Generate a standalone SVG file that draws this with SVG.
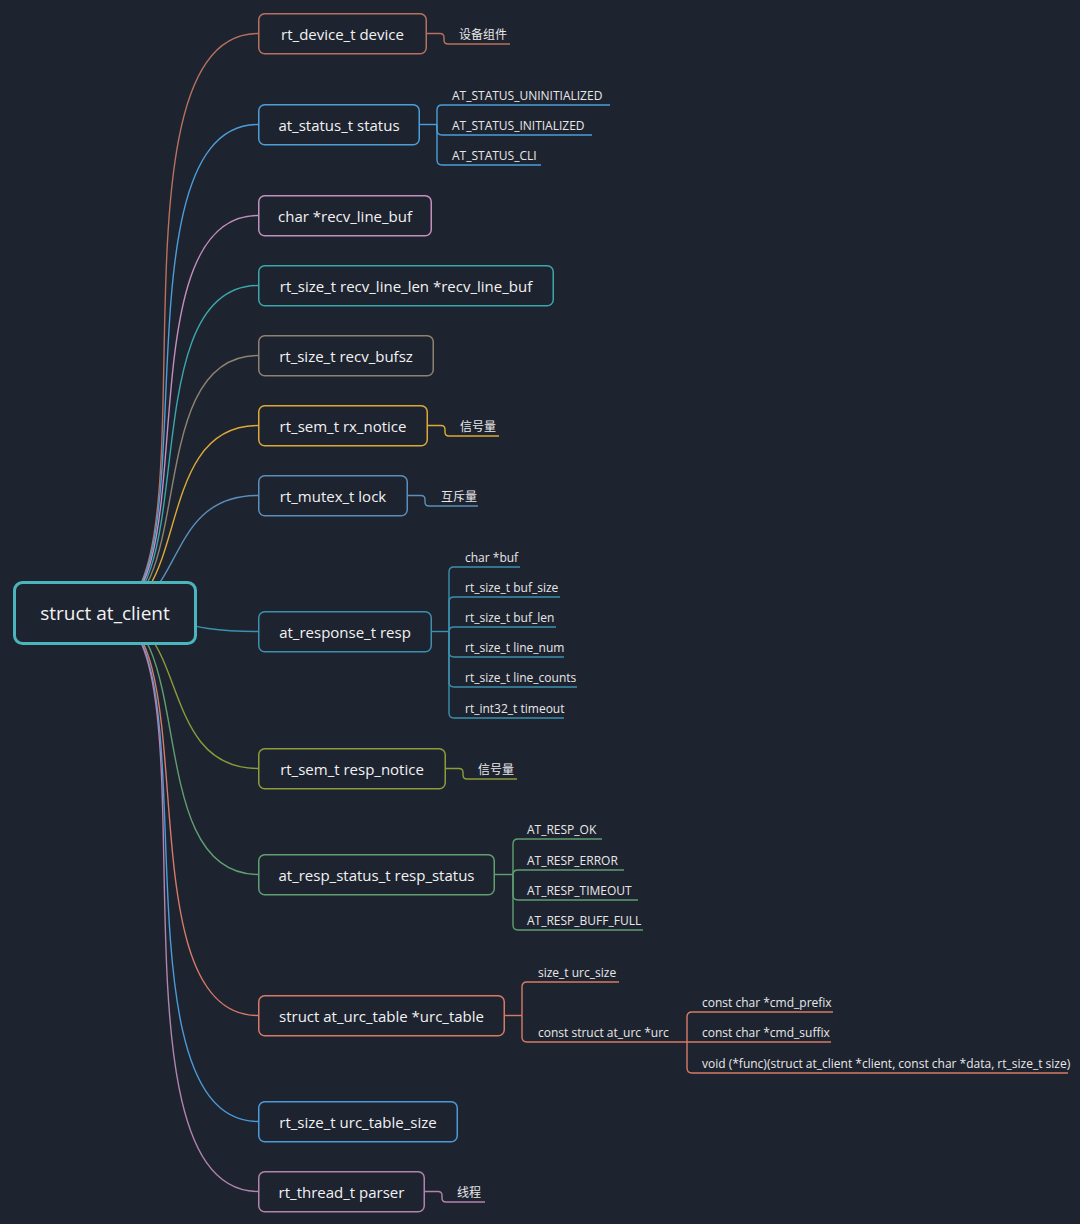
<svg xmlns="http://www.w3.org/2000/svg" width="1080" height="1224" viewBox="0 0 1080 1224">
<style>
.bg{fill:#1e2330}
.box{fill:#1e2330;stroke-width:1.5}
.ln{fill:none;stroke-width:1.4}
.t{font-family:"Open Sans","Noto Sans",sans-serif;font-size:15px;fill:#f2f2f2;text-anchor:middle;dominant-baseline:central}
.s{font-family:"Open Sans","Noto Sans",sans-serif;font-size:12px;fill:#e8e8e8}
.cj{font-family:"Noto Sans CJK SC","Noto Sans",sans-serif;font-size:12px;fill:#e8e8e8}
.c1{stroke:#b8715f}.c2{stroke:#4a9fd9}.c3{stroke:#c48fbf}.c4{stroke:#3aa7a9}.c5{stroke:#8e8270}.c6{stroke:#dcaa35}.c7{stroke:#5a8fba}.c8{stroke:#3b90ae}.c9{stroke:#8d9c38}.c10{stroke:#5f9f70}.c11{stroke:#d67b66}.c12{stroke:#4a9bd8}.c13{stroke:#b283ad}
</style>
<rect class="bg" x="0" y="0" width="1080" height="1224"/>
<g id="connectors">
<path class="ln c1" d="M105,613 C223,613 95,33.5 258,33.5"/>
<path class="ln c2" d="M105,613 C216,613 108,124.5 258,124.5"/>
<path class="ln c3" d="M105,613 C209,613 120,215.5 258,215.5"/>
<path class="ln c4" d="M105,613 C204,613 130,285.5 258,285.5"/>
<path class="ln c5" d="M105,613 C199,613 140,355.5 258,355.5"/>
<path class="ln c6" d="M105,613 C193,613 150,425.5 258,425.5"/>
<path class="ln c7" d="M105,613 C188,613 160,495.5 258,495.5"/>
<path class="ln c8" d="M105,613 C180,613 174,631.5 258,631.5"/>
<path class="ln c9" d="M105,613 C191,613 155,768.5 258,768.5"/>
<path class="ln c10" d="M105,613 C199,613 140,874.5 258,874.5"/>
<path class="ln c11" d="M105,613 C210,613 120,1015.5 258,1015.5"/>
<path class="ln c12" d="M105,613 C218,613 105,1121.5 258,1121.5"/>
<path class="ln c13" d="M105,613 C223,613 95,1191.5 258,1191.5"/>
<!-- single-child steps -->
<path class="ln c1" d="M427,33.5 H440 Q444,33.5 444,37.5 V40 Q444,44 448,44 H510"/>
<path class="ln c6" d="M428,425.5 H441 Q445,425.5 445,429.5 V432 Q445,436 449,436 H499"/>
<path class="ln c7" d="M408,495.5 H421 Q425,495.5 425,499.5 V502 Q425,506 429,506 H478"/>
<path class="ln c9" d="M446,768.5 H459 Q463,768.5 463,772.5 V775 Q463,779 467,779 H517"/>
<path class="ln c13" d="M425,1191.5 H438 Q442,1191.5 442,1195.5 V1198 Q442,1202 446,1202 H485"/>
<!-- status -->
<path class="ln c2" d="M420,124.5 H437"/>
<path class="ln c2" d="M437,124.5 V110 Q437,105 442,105 H610"/>
<path class="ln c2" d="M437,124.5 V130 Q437,135 442,135 H592"/>
<path class="ln c2" d="M437,124.5 V160 Q437,165 442,165 H541"/>
<!-- resp -->
<path class="ln c8" d="M432,631.5 H449"/>
<path class="ln c8" d="M449,631.5 V572 Q449,567 454,567 H520"/>
<path class="ln c8" d="M449,631.5 V602 Q449,597 454,597 H560"/>
<path class="ln c8" d="M449,631.5 Q449,627 454,627 H556"/>
<path class="ln c8" d="M449,631.5 V652 Q449,657 454,657 H564"/>
<path class="ln c8" d="M449,631.5 V682 Q449,687 454,687 H577"/>
<path class="ln c8" d="M449,631.5 V713 Q449,718 454,718 H564"/>
<!-- resp_status -->
<path class="ln c10" d="M495,874.5 H513"/>
<path class="ln c10" d="M513,874.5 V844 Q513,839 518,839 H602"/>
<path class="ln c10" d="M513,874.5 Q513,870 518,870 H624"/>
<path class="ln c10" d="M513,874.5 V895 Q513,900 518,900 H638"/>
<path class="ln c10" d="M513,874.5 V925 Q513,930 518,930 H643"/>
<!-- urc_table -->
<path class="ln c11" d="M505,1015.5 H522"/>
<path class="ln c11" d="M522,1015.5 V987 Q522,982 527,982 H619"/>
<path class="ln c11" d="M522,1015.5 V1037 Q522,1042 527,1042 H831"/>
<path class="ln c11" d="M687,1042 V1017 Q687,1012 692,1012 H833"/>
<path class="ln c11" d="M687,1042 V1068 Q687,1073 692,1073 H1068"/>
</g>
<g id="n-root">
<rect x="14.5" y="582.5" width="181" height="61" rx="8" fill="#1e2330" stroke="#4bb5bd" stroke-width="3"/>
<text class="t" x="105" y="613" style="font-size:19px">struct at_client</text>
</g>
<g id="n-device"><rect class="box c1" x="258.75" y="13.75" width="167.5" height="40" rx="6"/><text class="t" x="342.5" y="33.5">rt_device_t device</text></g>
<g id="n-status"><rect class="box c2" x="258.75" y="104.75" width="160.5" height="40" rx="6"/><text class="t" x="339" y="124.5">at_status_t status</text></g>
<g id="n-recv-line-buf"><rect class="box c3" x="258.75" y="195.75" width="172.5" height="40" rx="6"/><text class="t" x="345" y="215.5">char *recv_line_buf</text></g>
<g id="n-recv-line-len"><rect class="box c4" x="258.75" y="265.75" width="294.5" height="40" rx="6"/><text class="t" x="406" y="285.5">rt_size_t recv_line_len *recv_line_buf</text></g>
<g id="n-recv-bufsz"><rect class="box c5" x="258.75" y="335.75" width="174.5" height="40" rx="6"/><text class="t" x="346" y="355.5">rt_size_t recv_bufsz</text></g>
<g id="n-rx-notice"><rect class="box c6" x="258.75" y="405.75" width="168.5" height="40" rx="6"/><text class="t" x="343" y="425.5">rt_sem_t rx_notice</text></g>
<g id="n-lock"><rect class="box c7" x="258.75" y="475.75" width="148.5" height="40" rx="6"/><text class="t" x="333" y="495.5">rt_mutex_t lock</text></g>
<g id="n-resp"><rect class="box c8" x="258.75" y="611.75" width="172.5" height="40" rx="6"/><text class="t" x="345" y="631.5">at_response_t resp</text></g>
<g id="n-resp-notice"><rect class="box c9" x="258.75" y="748.75" width="186.5" height="40" rx="6"/><text class="t" x="352" y="768.5">rt_sem_t resp_notice</text></g>
<g id="n-resp-status"><rect class="box c10" x="258.75" y="854.75" width="235.5" height="40" rx="6"/><text class="t" x="376.5" y="874.5">at_resp_status_t resp_status</text></g>
<g id="n-urc-table"><rect class="box c11" x="258.75" y="995.75" width="245.5" height="40" rx="6"/><text class="t" x="381.5" y="1015.5">struct at_urc_table *urc_table</text></g>
<g id="n-urc-table-size"><rect class="box c12" x="258.75" y="1101.75" width="198.5" height="40" rx="6"/><text class="t" x="358" y="1121.5">rt_size_t urc_table_size</text></g>
<g id="n-parser"><rect class="box c13" x="258.75" y="1171.75" width="165.5" height="40" rx="6"/><text class="t" x="341.5" y="1191.5">rt_thread_t parser</text></g>
<g id="n-device-desc"><text class="cj" x="459" y="39">设备组件</text></g>
<g id="n-status-1"><text class="s" x="452" y="100">AT_STATUS_UNINITIALIZED</text></g>
<g id="n-status-2"><text class="s" x="452" y="130">AT_STATUS_INITIALIZED</text></g>
<g id="n-status-3"><text class="s" x="452" y="160">AT_STATUS_CLI</text></g>
<g id="n-rx-desc"><text class="cj" x="460" y="431">信号量</text></g>
<g id="n-lock-desc"><text class="cj" x="441" y="501">互斥量</text></g>
<g id="n-resp-1"><text class="s" x="465" y="562">char *buf</text></g>
<g id="n-resp-2"><text class="s" x="465" y="592">rt_size_t buf_size</text></g>
<g id="n-resp-3"><text class="s" x="465" y="622">rt_size_t buf_len</text></g>
<g id="n-resp-4"><text class="s" x="465" y="652">rt_size_t line_num</text></g>
<g id="n-resp-5"><text class="s" x="465" y="682">rt_size_t line_counts</text></g>
<g id="n-resp-6"><text class="s" x="465" y="713">rt_int32_t timeout</text></g>
<g id="n-resp-notice-desc"><text class="cj" x="478" y="774">信号量</text></g>
<g id="n-rs-1"><text class="s" x="527" y="834">AT_RESP_OK</text></g>
<g id="n-rs-2"><text class="s" x="527" y="865">AT_RESP_ERROR</text></g>
<g id="n-rs-3"><text class="s" x="527" y="895">AT_RESP_TIMEOUT</text></g>
<g id="n-rs-4"><text class="s" x="527" y="925">AT_RESP_BUFF_FULL</text></g>
<g id="n-urc-size"><text class="s" x="538" y="977">size_t urc_size</text></g>
<g id="n-urc"><text class="s" x="538" y="1037">const struct at_urc *urc</text></g>
<g id="n-urc-1"><text class="s" x="702" y="1007">const char *cmd_prefix</text></g>
<g id="n-urc-2"><text class="s" x="702" y="1037">const char *cmd_suffix</text></g>
<g id="n-urc-3"><text class="s" x="702" y="1068">void (*func)(struct at_client *client, const char *data, rt_size_t size)</text></g>
<g id="n-parser-desc"><text class="cj" x="457" y="1197">线程</text></g>
</svg>
